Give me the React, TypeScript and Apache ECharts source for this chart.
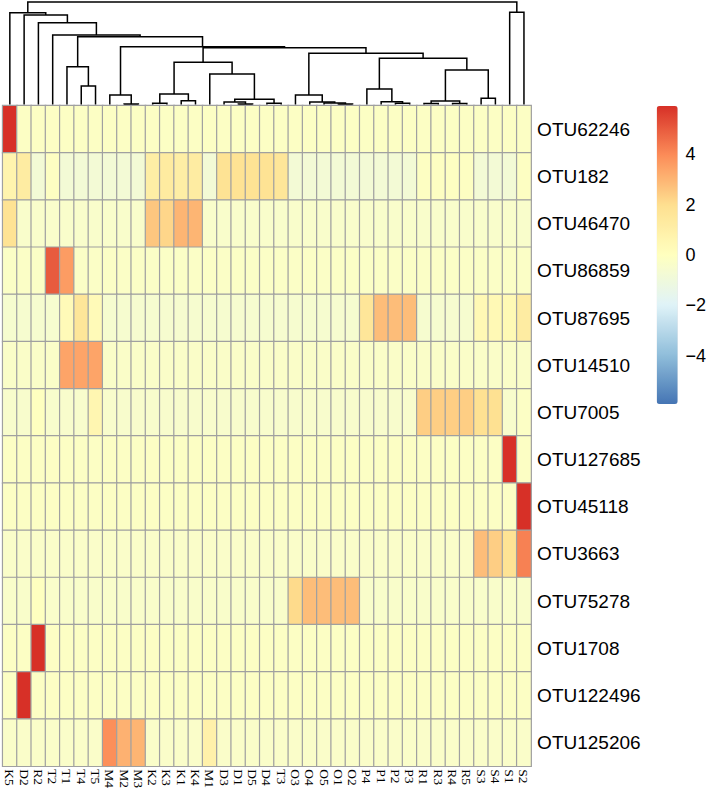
import React, { useEffect, useRef } from 'react';
import * as echarts from 'echarts';

const colLabels = ['K5','D2','R2','T2','T1','T4','T5','M4','M2','M3','K2','K3','K1','K4','M1','D3','D1','D5','D4','T3','O3','O4','O5','O1','O2','P4','P1','P2','P3','R1','R3','R4','R5','S3','S4','S1','S2'];

const rowLabels = ['OTU62246','OTU182','OTU46470','OTU86859','OTU87695','OTU14510','OTU7005','OTU127685','OTU45118','OTU3663','OTU75278','OTU1708','OTU122496','OTU125206'];

// row-scaled values, one array per OTU, in column order
const OTU62246 = [5.92,-0.16,-0.16,-0.16,-0.16,-0.16,-0.16,-0.16,-0.16,-0.16, -0.16,-0.16,-0.16,-0.16,-0.16,-0.16,-0.16,-0.16,-0.16,-0.16, -0.16,-0.16,-0.16,-0.16,-0.16,-0.16,-0.16,-0.16,-0.16,-0.16, -0.16,-0.16,-0.16,-0.16,-0.16,-0.16,-0.16];
const OTU182 = [0.7,1.2,-0.75,-0.1,-0.75,-0.75,-0.75,-0.75,-0.75,-0.75, 1.1,1.3,1.1,1.2,-0.75,1.8,1.8,1.8,1.8,1.6, -0.75,-0.75,-0.75,-0.75,-0.75,-0.75,-0.75,-0.75,-0.75,-0.1, -0.1,-0.1,-0.1,-0.75,-0.75,-0.75,-0.1];
const OTU46470 = [1.8,-0.4,-0.4,-0.4,-0.4,-0.4,-0.4,-0.4,-0.4,-0.4, 2.6,2.2,3.0,3.0,-0.4,-0.4,-0.4,-0.4,-0.4,-0.4, -0.4,-0.4,-0.4,-0.4,-0.4,-0.4,-0.4,-0.4,-0.4,-0.4, -0.4,-0.4,-0.4,-0.4,-0.4,-0.4,-0.4];
const OTU86859 = [-0.24,-0.24,-0.24,5.0,3.6,-0.24,-0.24,-0.24,-0.24,-0.24, -0.24,-0.24,-0.24,-0.24,-0.24,-0.24,-0.24,-0.24,-0.24,-0.24, -0.24,-0.24,-0.24,-0.24,-0.24,-0.24,-0.24,-0.24,-0.24,-0.24, -0.24,-0.24,-0.24,-0.24,-0.24,-0.24,-0.24];
const OTU87695 = [-0.55,-0.55,-0.55,-0.55,0.3,1.6,0.3,-0.55,-0.55,-0.55, -0.55,-0.55,-0.55,-0.55,-0.55,-0.55,-0.55,-0.55,-0.55,-0.55, -0.55,-0.55,-0.55,-0.55,-0.55,1.6,2.8,2.8,2.8,-0.55, -0.55,-0.55,-0.55,0.4,0.4,0.4,1.2];
const OTU14510 = [-0.3,-0.3,-0.3,-0.3,3.4,3.4,3.4,-0.3,-0.3,-0.3, -0.3,-0.3,-0.3,-0.3,-0.3,-0.3,-0.3,-0.3,-0.3,-0.3, -0.3,-0.3,-0.3,-0.3,-0.3,-0.3,-0.3,-0.3,-0.3,-0.3, -0.3,-0.3,-0.3,-0.3,-0.3,-0.3,-0.3];
const OTU7005 = [-0.45,-0.45,-0.05,-0.45,-0.45,-0.45,0.6,-0.45,-0.45,-0.45, -0.45,-0.45,-0.45,-0.45,-0.45,-0.45,-0.45,-0.45,-0.45,-0.45, -0.45,-0.45,-0.45,-0.45,-0.45,-0.45,-0.45,-0.45,-0.45,2.4, 2.4,2.4,2.4,1.9,1.9,-0.45,-0.2];
const OTU127685 = [-0.16,-0.16,-0.16,-0.16,-0.16,-0.16,-0.16,-0.16,-0.16,-0.16, -0.16,-0.16,-0.16,-0.16,-0.16,-0.16,-0.16,-0.16,-0.16,-0.16, -0.16,-0.16,-0.16,-0.16,-0.16,-0.16,-0.16,-0.16,-0.16,-0.16, -0.16,-0.16,-0.16,-0.16,-0.16,5.92,-0.16];
const OTU45118 = [-0.16,-0.16,-0.16,-0.16,-0.16,-0.16,-0.16,-0.16,-0.16,-0.16, -0.16,-0.16,-0.16,-0.16,-0.16,-0.16,-0.16,-0.16,-0.16,-0.16, -0.16,-0.16,-0.16,-0.16,-0.16,-0.16,-0.16,-0.16,-0.16,-0.16, -0.16,-0.16,-0.16,-0.16,-0.16,-0.16,5.92];
const OTU3663 = [-0.35,-0.35,-0.35,-0.35,-0.35,-0.35,-0.35,-0.35,-0.35,-0.35, -0.35,-0.35,-0.35,-0.35,-0.35,-0.35,-0.35,-0.35,-0.35,-0.35, -0.35,-0.35,-0.35,-0.35,-0.35,-0.35,-0.35,-0.35,-0.35,-0.35, -0.35,-0.35,-0.35,2.8,2.4,1.8,4.2];
const OTU75278 = [-0.38,-0.38,-0.05,-0.38,-0.38,-0.38,-0.38,-0.38,-0.38,-0.38, -0.38,-0.38,-0.38,-0.38,-0.38,-0.38,-0.38,-0.38,-0.38,-0.38, 2.1,2.8,2.8,2.8,2.8,-0.38,-0.38,-0.38,-0.38,-0.38, -0.38,-0.38,-0.38,-0.38,-0.38,-0.38,-0.38];
const OTU1708 = [-0.16,-0.16,5.92,-0.16,-0.16,-0.16,-0.16,-0.16,-0.16,-0.16, -0.16,-0.16,-0.16,-0.16,-0.16,-0.16,-0.16,-0.16,-0.16,-0.16, -0.16,-0.16,-0.16,-0.16,-0.16,-0.16,-0.16,-0.16,-0.16,-0.16, -0.16,-0.16,-0.16,-0.16,-0.16,-0.16,-0.16];
const OTU122496 = [-0.16,5.92,-0.16,-0.16,-0.16,-0.16,-0.16,-0.16,-0.16,-0.16, -0.16,-0.16,-0.16,-0.16,-0.16,-0.16,-0.16,-0.16,-0.16,-0.16, -0.16,-0.16,-0.16,-0.16,-0.16,-0.16,-0.16,-0.16,-0.16,-0.16, -0.16,-0.16,-0.16,-0.16,-0.16,-0.16,-0.16];
const OTU125206 = [-0.33,-0.33,-0.33,-0.33,-0.33,-0.33,-0.33,3.9,3.1,3.0, -0.33,-0.33,-0.33,-0.33,0.9,-0.33,-0.33,-0.33,-0.33,-0.33, -0.33,-0.33,-0.33,-0.33,-0.33,-0.33,-0.33,-0.33,-0.33,-0.33, -0.33,-0.33,-0.33,-0.33,-0.33,-0.33,-0.33];

const rowValues = [OTU62246, OTU182, OTU46470, OTU86859, OTU87695, OTU14510, OTU7005, OTU127685, OTU45118, OTU3663, OTU75278, OTU1708, OTU122496, OTU125206];

// column dendrogram merges: [left, right, height]; strings are leaves, numbers refer to earlier merges
const merges: [string | number, string | number, number][] = [
  ['T4', 'T5', 18.5],   // 0
  ['T1', 0, 37.8],      // 1
  ['M2', 'M3', 0.5],    // 2
  ['M4', 2, 9.5],       // 3
  ['K2', 'K3', 1.2],    // 4
  ['K1', 'K4', 3.8],    // 5
  [4, 5, 10.5],         // 6
  ['D1', 'D5', 0.5],    // 7
  ['D3', 7, 2.5],       // 8
  ['D4', 'T3', 1.2],    // 9
  [8, 9, 5.2],          // 10
  ['M1', 10, 30.5],     // 11
  [6, 11, 42.2],        // 12
  ['O1', 'O2', 0.5],    // 13
  ['O5', 13, 1.5],      // 14
  ['O4', 14, 2.5],      // 15
  ['O3', 15, 9.5],      // 16
  ['P2', 'P3', 1.2],    // 17
  ['P1', 17, 2.8],      // 18
  ['P4', 18, 15.5],     // 19
  ['R1', 'R3', 1.0],    // 20
  ['R4', 'R5', 1.0],    // 21
  [20, 21, 3.5],        // 22
  ['S3', 'S4', 6.2],    // 23
  [22, 23, 34.5],       // 24
  [19, 24, 46.2],       // 25
  [16, 25, 51.2],       // 26
  [12, 26, 56.8],       // 27
  [3, 27, 57.8],        // 28
  [1, 28, 67.8],        // 29
  ['T2', 29, 69.5],     // 30
  ['R2', 30, 81.8],     // 31
  ['D2', 31, 89.5],     // 32
  ['K5', 32, 91.8],     // 33
  ['S1', 'S2', 92.2],   // 34
  [33, 34, 102.5],      // 35
];

const legendColors = ['#4575B4', '#91BFDB', '#E0F3F8', '#FFFFBF', '#FEE090', '#FC8D59', '#D73027'];
const scaleLimit = 5.92;

export default function App() {
  const ref = useRef<HTMLDivElement>(null);

  useEffect(() => {
    if (!ref.current) return;
    const chart = echarts.init(ref.current, undefined, { renderer: 'svg' });

    const heatData: number[][] = [];
    rowValues.forEach((row, r) => {
      row.forEach((v, c) => heatData.push([c, r, v]));
    });

    // compute node positions
    const nodePos: { x: number; h: number }[] = [];
    const pos = (k: string | number) =>
      typeof k === 'string' ? { x: colLabels.indexOf(k), h: 0 } : nodePos[k];
    const treeData: number[][] = [];
    merges.forEach(([a, b, h]) => {
      const pa = pos(a);
      const pb = pos(b);
      treeData.push([pa.x, pa.h, pb.x, pb.h, h]);
      nodePos.push({ x: (pa.x + pb.x) / 2, h });
    });

    const GL = 2.7, GW = 528.4;

    chart.setOption({
      animation: false,
      backgroundColor: '#ffffff',
      grid: [
        { left: GL, top: 105.7, width: GW, height: 663.6 },
        { left: GL, top: 2, width: GW, height: 102.5 },
        { left: 656.7, top: 103.8, width: 21, height: 302.4 },
      ],
      xAxis: [
        {
          type: 'category', gridIndex: 0, data: colLabels, position: 'bottom',
          axisLine: { show: false }, axisTick: { show: false }, splitLine: { show: false },
          axisLabel: { rotate: -90, interval: 0, fontFamily: 'Liberation Serif', fontSize: 13.5, color: '#000', margin: 3 },
        },
        { type: 'value', gridIndex: 1, min: -0.5, max: 36.5, show: false },
        { type: 'value', gridIndex: 2, min: 0, max: 1, show: false },
      ],
      yAxis: [
        {
          type: 'category', gridIndex: 0, data: rowLabels, inverse: true, position: 'right',
          axisLine: { show: false }, axisTick: { show: false }, splitLine: { show: false },
          axisLabel: { interval: 0, fontFamily: 'Liberation Sans', fontSize: 19, color: '#000', margin: 6 },
        },
        { type: 'value', gridIndex: 1, min: 0, max: 102.5, show: false },
        {
          type: 'value', gridIndex: 2, min: -6, max: 6, interval: 2, position: 'right',
          axisLine: { show: false }, axisTick: { show: false }, splitLine: { show: false },
          axisLabel: {
            fontFamily: 'Liberation Sans', fontSize: 18, color: '#000', margin: 9,
            formatter: (v: number) => (Math.abs(v) >= 6 ? '' : v < 0 ? '\u2212' + Math.abs(v) : String(v)),
          },
        },
      ],
      visualMap: {
        type: 'continuous',
        min: -scaleLimit,
        max: scaleLimit,
        seriesIndex: 0,
        dimension: 2,
        inRange: { color: legendColors },
        left: 656.7,
        top: 106,
        itemWidth: 21,
        itemHeight: 298,
        padding: 0,
        calculable: false,
        hoverLink: false,
        orient: 'vertical',
      },
      series: [
        {
          type: 'heatmap', xAxisIndex: 0, yAxisIndex: 0, data: heatData,
          itemStyle: { borderColor: '#a0a0a0', borderWidth: 1.2 },
          emphasis: { disabled: true },
        },
        {
          type: 'custom', xAxisIndex: 1, yAxisIndex: 1, data: treeData, silent: true, clip: false,
          renderItem: (params: any, api: any) => {
            const p1 = api.coord([api.value(0), api.value(1)]);
            const p2 = api.coord([api.value(0), api.value(4)]);
            const p3 = api.coord([api.value(2), api.value(4)]);
            const p4 = api.coord([api.value(2), api.value(3)]);
            return {
              type: 'polyline',
              shape: { points: [p1, p2, p3, p4] },
              style: { stroke: '#000', fill: 'none', lineWidth: 1.5 },
            };
          },
        },
      ],
    });

    return () => chart.dispose();
  }, []);

  return <div ref={ref} style={{ position: 'fixed', left: 0, top: 0, width: 709, height: 791 }} />;
}
